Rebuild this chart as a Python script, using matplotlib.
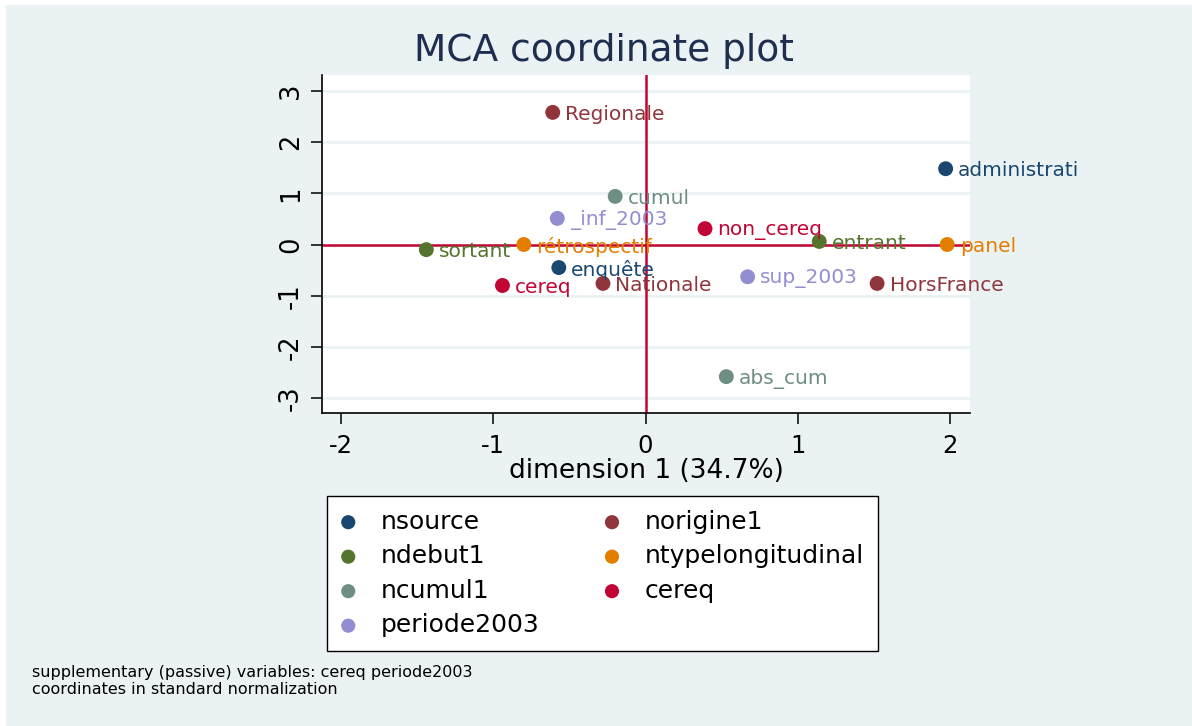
import numpy as np
import matplotlib.pyplot as plt
from matplotlib.patches import Rectangle

plt.rcParams['font.family'] = ['DejaVu Sans']
plt.rcParams['axes.unicode_minus'] = False

# variables (legend order) and their colours
variables = ["nsource", "ndebut1", "ncumul1", "periode2003",
             "norigine1", "ntypelongitudinal", "cereq"]
colors = ["#1A476F", "#55752F", "#6E8E84", "#938DD2",
          "#90353B", "#E37E00", "#C10534"]

# categories per variable: (label, dim1, dim2)
cat_labels = {
    "nsource": ["administrati", "enquête"],
    "ndebut1": ["sortant", "entrant"],
    "ncumul1": ["cumul", "abs_cum"],
    "periode2003": ["_inf_2003", "sup_2003"],
    "norigine1": ["Regionale", "Nationale", "HorsFrance"],
    "ntypelongitudinal": ["rétrospectif", "panel"],
    "cereq": ["non_cereq", "cereq"],
}
cat_dim1 = {
    "nsource": [1.97, -0.57],
    "ndebut1": [-1.44, 1.14],
    "ncumul1": [-0.20, 0.53],
    "periode2003": [-0.58, 0.67],
    "norigine1": [-0.61, -0.28, 1.52],
    "ntypelongitudinal": [-0.80, 1.98],
    "cereq": [0.39, -0.94],
}
cat_dim2 = {
    "nsource": [1.48, -0.45],
    "ndebut1": [-0.10, 0.06],
    "ncumul1": [0.94, -2.58],
    "periode2003": [0.51, -0.63],
    "norigine1": [2.58, -0.76, -0.76],
    "ntypelongitudinal": [0.0, 0.0],
    "cereq": [0.31, -0.80],
}

W, H = 1192, 726
bg = "#EAF2F3"
fig = plt.figure(figsize=(W / 100, H / 100), dpi=100, facecolor=bg)
# thin white border on top/left as in the original export
fig.patches.append(Rectangle((0, 1 - 5 / H), 1, 5 / H, transform=fig.transFigure,
                             facecolor="white", edgecolor="none", zorder=-1))
fig.patches.append(Rectangle((0, 0), 6 / W, 1, transform=fig.transFigure,
                             facecolor="white", edgecolor="none", zorder=-1))

ax = fig.add_axes([322 / W, 1 - 413 / H, (970 - 322) / W, (413 - 75) / H])
ax.set_facecolor("white")

ax.set_xlim(-2.125, 2.13)
ax.set_ylim(-3.29, 3.31)
ax.set_xticks([-2, -1, 0, 1, 2])
ax.set_yticks([-3, -2, -1, 0, 1, 2, 3])
ax.yaxis.grid(True, color=bg, linewidth=2, zorder=0)
ax.set_axisbelow(True)

for s in ["top", "right"]:
    ax.spines[s].set_visible(False)
for s in ["left", "bottom"]:
    ax.spines[s].set_linewidth(1.2)
ax.tick_params(direction="out", length=8, width=1.1, labelsize=17.5, pad=7)
ax.tick_params(axis="y", labelrotation=90, pad=5, labelsize=18.5)
for t in ax.get_yticklabels():
    t.set_va("center")

ax.axhline(0, color="#C10534", linewidth=1.8, zorder=1)
ax.axvline(0, color="#C10534", linewidth=1.8, zorder=1)

handles = []
for var, col in zip(variables, colors):
    h = ax.scatter(cat_dim1[var], cat_dim2[var], s=115, color=col,
                   edgecolor="none", zorder=3, label=var)
    handles.append(h)
    for lab, x, y in zip(cat_labels[var], cat_dim1[var], cat_dim2[var]):
        ax.annotate(lab, (x, y), xytext=(9, -1.5), textcoords="offset points",
                    ha="left", va="center", color=col, fontsize=14.5, zorder=4)

ax.set_xlabel("dimension 1 (34.7%)", fontsize=19, labelpad=0)

fig.text(604 / W, 1 - 51 / H, "MCA coordinate plot", ha="center", va="center",
         fontsize=27, color="#1E2D50")

leg = fig.legend(handles=handles, labels=variables, ncol=2,
                 loc="upper left", bbox_to_anchor=(327 / W, 1 - 496 / H),
                 borderaxespad=0, fontsize=18, frameon=True, fancybox=False,
                 framealpha=1, markerscale=0.95, handletextpad=1.0,
                 columnspacing=2.6, labelspacing=0.42, borderpad=0.55,
                 handlelength=0.6)
leg.get_frame().set_edgecolor("black")
leg.get_frame().set_facecolor("white")
leg.get_frame().set_linewidth(1.0)

fig.text(32 / W, 1 - 672 / H, "supplementary (passive) variables: cereq periode2003",
         ha="left", va="center", fontsize=11.5)
fig.text(32 / W, 1 - 689 / H, "coordinates in standard normalization",
         ha="left", va="center", fontsize=11.5)

fig.savefig("out.png", dpi=100, facecolor=bg)
